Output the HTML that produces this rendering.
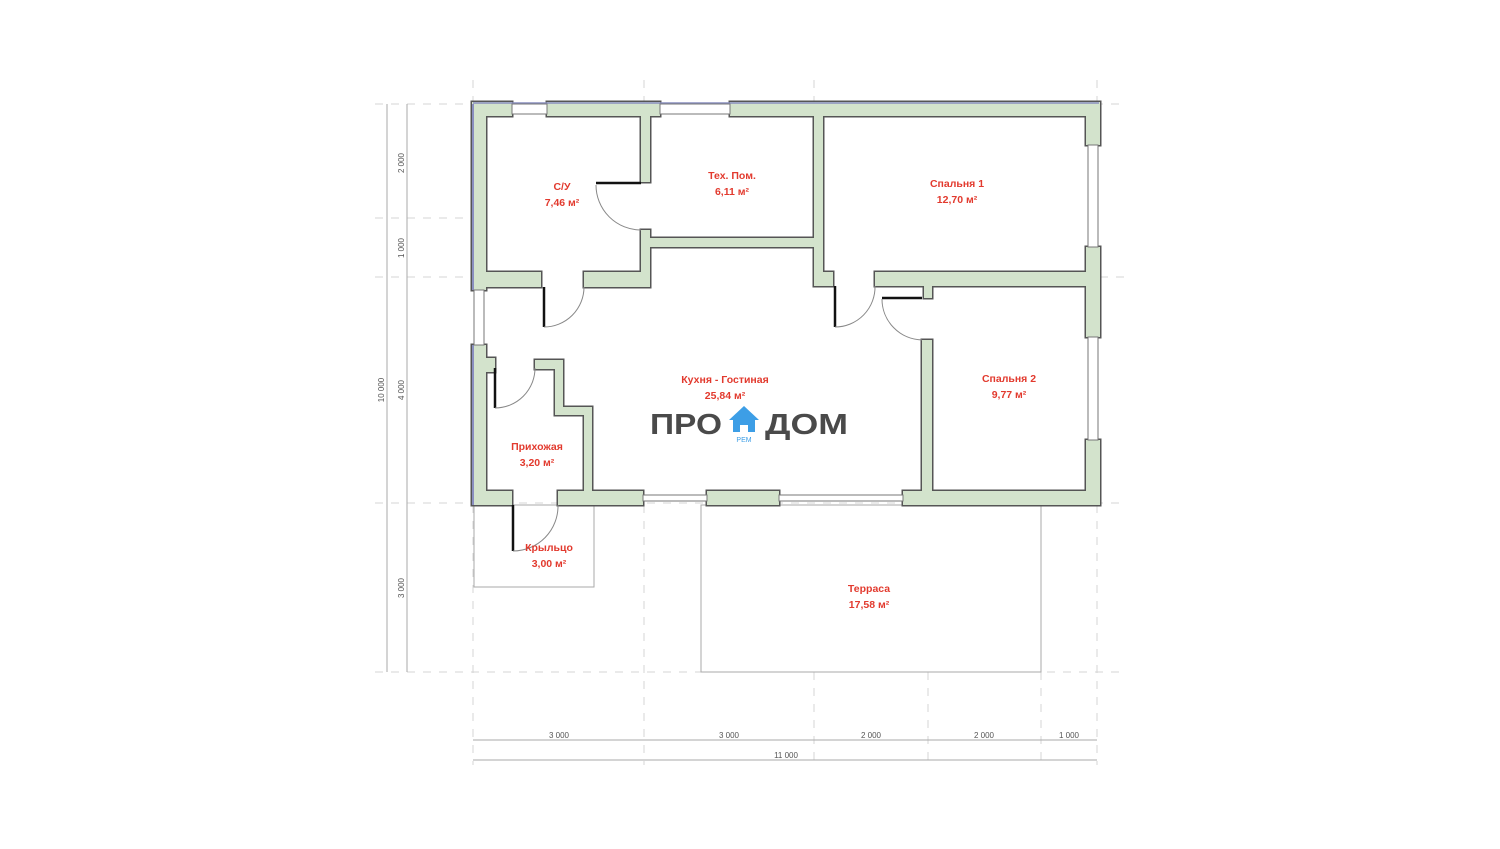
<!DOCTYPE html>
<html><head><meta charset="utf-8"><style>
html,body{margin:0;padding:0;background:#fff;width:1500px;height:849px;overflow:hidden}
svg{display:block}
.win{fill:#fff;stroke:#777;stroke-width:1}
.lbl{font-family:"Liberation Sans",sans-serif;font-weight:bold;font-size:10.5px;fill:#e23a2e;text-anchor:middle}
.dim{font-family:"Liberation Sans",sans-serif;font-size:8px;fill:#555;text-anchor:middle}
.g{stroke:#d4d4d4;stroke-width:1;stroke-dasharray:8 8;fill:none}
.d{stroke:#aaa;stroke-width:1;fill:none}
.arc{stroke:#888;stroke-width:1;fill:none}
.door{stroke:#111;stroke-width:2.5}
</style></head><body>
<svg width="1500" height="849" viewBox="0 0 1500 849">
<defs>
<g id="walls">
<rect x="472" y="102" width="40" height="14"/>
<rect x="547" y="102" width="113" height="14"/>
<rect x="730" y="102" width="370" height="14"/>
<rect x="472" y="102" width="14" height="188"/>
<rect x="472" y="345" width="14" height="160"/>
<rect x="1086" y="102" width="14" height="43"/>
<rect x="1086" y="247" width="14" height="90"/>
<rect x="1086" y="440" width="14" height="65"/>
<rect x="472" y="491" width="40" height="14"/>
<rect x="558" y="491" width="85" height="14"/>
<rect x="707" y="491" width="72" height="14"/>
<rect x="903" y="491" width="197" height="14"/>
<rect x="641" y="116" width="9" height="66"/>
<rect x="641" y="230" width="9" height="57"/>
<rect x="650" y="238" width="167" height="9"/>
<rect x="486" y="272" width="55" height="15"/>
<rect x="584" y="272" width="66" height="15"/>
<rect x="814" y="116" width="9" height="170"/>
<rect x="823" y="272" width="10" height="14"/>
<rect x="875" y="272" width="211" height="14"/>
<rect x="924" y="286" width="8" height="12"/>
<rect x="922" y="340" width="10" height="151"/>
<rect x="486" y="358" width="9" height="14"/>
<rect x="535" y="360" width="28" height="9"/>
<rect x="555" y="360" width="8" height="55"/>
<rect x="555" y="407" width="37" height="8"/>
<rect x="584" y="407" width="8" height="84"/>
</g>
</defs>
<g class="g">
<line x1="375" y1="104" x2="1125" y2="104"/>
<line x1="375" y1="218" x2="470" y2="218"/>
<line x1="375" y1="277" x2="470" y2="277"/>
<line x1="1100" y1="277" x2="1125" y2="277"/>
<line x1="375" y1="503" x2="1125" y2="503"/>
<line x1="375" y1="672" x2="1125" y2="672"/>
<line x1="473" y1="505" x2="473" y2="765"/>
<line x1="644" y1="505" x2="644" y2="765"/>
<line x1="814" y1="672" x2="814" y2="765"/>
<line x1="928" y1="672" x2="928" y2="765"/>
<line x1="1041" y1="672" x2="1041" y2="765"/>
<line x1="1097" y1="505" x2="1097" y2="765"/>
<line x1="1097" y1="80" x2="1097" y2="102"/>
<line x1="473" y1="80" x2="473" y2="102"/>
<line x1="644" y1="80" x2="644" y2="102"/>
<line x1="814" y1="80" x2="814" y2="102"/>
</g>
<g class="d">
<line x1="387" y1="104" x2="387" y2="672"/>
<line x1="407" y1="104" x2="407" y2="672"/>
<line x1="473" y1="740" x2="1097" y2="740"/>
<line x1="473" y1="760" x2="1097" y2="760"/>
</g>
<text class="dim" transform="translate(404,163) rotate(-90)">2 000</text>
<text class="dim" transform="translate(404,248) rotate(-90)">1 000</text>
<text class="dim" transform="translate(404,390) rotate(-90)">4 000</text>
<text class="dim" transform="translate(404,588) rotate(-90)">3 000</text>
<text class="dim" transform="translate(384,390) rotate(-90)">10 000</text>
<text class="dim" x="559" y="738">3 000</text>
<text class="dim" x="729" y="738">3 000</text>
<text class="dim" x="871" y="738">2 000</text>
<text class="dim" x="984" y="738">2 000</text>
<text class="dim" x="1069" y="738">1 000</text>
<text class="dim" x="786" y="758">11 000</text>
<rect x="474" y="505" width="120" height="82" fill="none" stroke="#aaa"/>
<rect x="701" y="505" width="340" height="167" fill="none" stroke="#aaa"/>
<use href="#walls" fill="#555" stroke="#555" stroke-width="3"/>
<use href="#walls" fill="#d3e3cc" stroke="none"/>
<line x1="473" y1="104" x2="473" y2="290" stroke="#8a8fc0" stroke-width="2"/>
<line x1="473" y1="345" x2="473" y2="505" stroke="#8a8fc0" stroke-width="2"/>
<line x1="473" y1="103" x2="1099" y2="103" stroke="#8a8fc0" stroke-width="1.5"/>
<g class="win">
<rect x="512" y="104" width="35" height="10"/>
<rect x="660" y="104" width="70" height="10"/>
<rect x="474" y="290" width="10" height="55"/>
<rect x="1088" y="145" width="10" height="102"/>
<rect x="1088" y="337" width="10" height="103"/>
<rect x="643" y="495" width="64" height="6"/>
<rect x="779" y="495" width="124" height="6"/>
</g>
<line class="door" x1="596" y1="183" x2="641" y2="183"/>
<path class="arc" d="M596 185 A45 45 0 0 0 641 230"/>
<line class="door" x1="544" y1="287" x2="544" y2="327"/>
<path class="arc" d="M544 327 A40 40 0 0 0 584 287"/>
<line class="door" x1="835" y1="286" x2="835" y2="327"/>
<path class="arc" d="M835 327 A40 40 0 0 0 875 286"/>
<line class="door" x1="882" y1="298" x2="922" y2="298"/>
<path class="arc" d="M882 299 A41 41 0 0 0 922 340"/>
<line class="door" x1="495" y1="368" x2="495" y2="408"/>
<path class="arc" d="M495 408 A40 40 0 0 0 535 368"/>
<line class="door" x1="513" y1="505" x2="513" y2="551"/>
<path class="arc" d="M513 551 A45 45 0 0 0 558 505"/>
<text class="lbl" x="562" y="190">С/У</text>
<text class="lbl" x="562" y="206">7,46 м²</text>
<text class="lbl" x="732" y="179">Тех. Пом.</text>
<text class="lbl" x="732" y="195">6,11 м²</text>
<text class="lbl" x="957" y="187">Спальня 1</text>
<text class="lbl" x="957" y="203">12,70 м²</text>
<text class="lbl" x="1009" y="382">Спальня 2</text>
<text class="lbl" x="1009" y="398">9,77 м²</text>
<text class="lbl" x="725" y="383">Кухня - Гостиная</text>
<text class="lbl" x="725" y="399">25,84 м²</text>
<text class="lbl" x="537" y="450">Прихожая</text>
<text class="lbl" x="537" y="466">3,20 м²</text>
<text class="lbl" x="549" y="551">Крыльцо</text>
<text class="lbl" x="549" y="567">3,00 м²</text>
<text class="lbl" x="869" y="592">Терраса</text>
<text class="lbl" x="869" y="608">17,58 м²</text>
<text x="650" y="434" font-family="Liberation Sans,sans-serif" font-weight="bold" font-size="29" fill="#4a4a4a" textLength="72" lengthAdjust="spacingAndGlyphs">ПРО</text>
<text x="765" y="434" font-family="Liberation Sans,sans-serif" font-weight="bold" font-size="29" fill="#4a4a4a" textLength="83" lengthAdjust="spacingAndGlyphs">ДОМ</text>
<path d="M744 406 L759 420 L755 420 L755 432 L748 432 L748 425 L740 425 L740 432 L733 432 L733 420 L729 420 Z" fill="#3d9ee6"/>
<text x="744" y="442" font-family="Liberation Sans,sans-serif" font-size="7" fill="#3d9ee6" text-anchor="middle">РЕМ</text>
</svg>
</body></html>
